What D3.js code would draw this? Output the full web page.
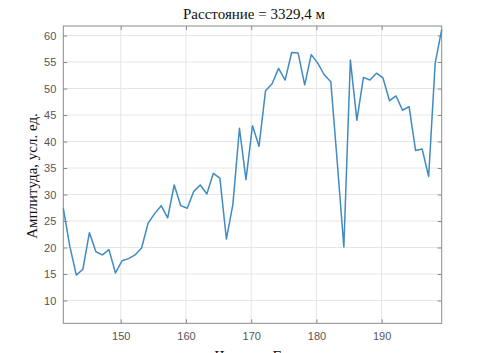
<!DOCTYPE html>
<html><head><meta charset="utf-8">
<script src="https://cdn.jsdelivr.net/npm/d3@7"></script>
<style>body{margin:0;background:#fff}svg{display:block}</style>
</head><body>
<script>
const titleText = "Расстояние = 3329,4 м";
const yLabel = "Амплитуда, усл. ед.";
const xLabel = "Частота, Гц";
const distance = [141.2,142.2,143.2,144.2,145.2,146.2,147.2,148.2,149.2,150.2,
  151.2,152.2,153.2,154.2,155.2,156.2,157.2,158.2,159.2,160.2,
  161.2,162.2,163.2,164.2,165.2,166.2,167.2,168.2,169.2,170.2,
  171.2,172.2,173.2,174.2,175.2,176.2,177.2,178.2,179.2,180.2,
  181.2,182.2,183.2,184.2,185.2,186.2,187.2,188.2,189.2,190.2,
  191.2,192.2,193.2,194.2,195.2,196.2,197.2,198.2,199.2];
const amplitude = [27.4,20.2,14.8,15.9,22.8,19.2,18.6,19.6,15.2,17.5,
  17.9,18.6,19.9,24.6,26.4,27.9,25.6,31.8,27.9,27.4,
  30.6,31.8,30.1,34.0,33.1,21.6,28.2,42.5,32.8,43.0,
  39.1,49.6,50.9,53.8,51.6,56.8,56.7,50.7,56.4,54.8,
  52.6,51.3,36.0,20.1,55.4,44.0,52.1,51.6,52.9,52.0,
  47.7,48.6,45.9,46.6,38.3,38.6,33.4,54.8,61.1];
const xTicks = [150,160,170,180,190];
const yTicks = [10,15,20,25,30,35,40,45,50,55,60];
const yDomain = [5.7,61.8];

const W=488,H=353;
const m={left:63.3,top:26,right:488-441.7,bottom:353-323.3};
const svg=d3.select("body").append("svg").attr("width",W).attr("height",H);
const x=d3.scaleLinear().domain(d3.extent(distance)).range([m.left,W-m.right]);
const y=d3.scaleLinear().domain(yDomain).range([H-m.bottom,m.top]);
const pw=W-m.left-m.right, ph=H-m.top-m.bottom;

// grid
const g=svg.append("g");
g.selectAll("line.gx").data(xTicks).join("line")
 .attr("x1",d=>x(d)).attr("x2",d=>x(d)).attr("y1",m.top).attr("y2",H-m.bottom)
 .attr("stroke","#e6e6e6").attr("stroke-width",1);
g.selectAll("line.gy").data(yTicks).join("line")
 .attr("y1",d=>y(d)).attr("y2",d=>y(d)).attr("x1",m.left).attr("x2",W-m.right)
 .attr("stroke","#e6e6e6").attr("stroke-width",1);

// axes
const tickStyle = sel=>{sel.select(".domain").remove();sel.selectAll("line").attr("stroke","#8a8a8a");
  sel.selectAll("text").attr("fill","#555").style("font-family","'Liberation Sans',Arial,sans-serif").style("font-size","11px");};
svg.append("g").attr("transform",`translate(0,${H-m.bottom})`)
 .call(d3.axisBottom(x).tickValues(xTicks).tickSize(-4).tickPadding(9).tickFormat(d3.format("d"))).call(tickStyle);
svg.append("g").attr("transform",`translate(0,${m.top})`)
 .call(d3.axisTop(x).tickValues(xTicks).tickSize(-4).tickFormat("")).call(tickStyle);
svg.append("g").attr("transform",`translate(${m.left},0)`)
 .call(d3.axisLeft(y).tickValues(yTicks).tickSize(-4).tickPadding(7).tickFormat(d3.format("d"))).call(tickStyle);
svg.append("g").attr("transform",`translate(${W-m.right},0)`)
 .call(d3.axisRight(y).tickValues(yTicks).tickSize(-4).tickFormat("")).call(tickStyle);

// box
svg.append("rect").attr("x",m.left).attr("y",m.top).attr("width",pw).attr("height",ph)
 .attr("fill","none").attr("stroke","#8a8a8a").attr("stroke-width",1);

// line
svg.append("path").datum(distance.map((d,i)=>[d,amplitude[i]]))
 .attr("d",d3.line().x(d=>x(d[0])).y(d=>y(d[1])))
 .attr("fill","none").attr("stroke","#3f8bc2").attr("stroke-width",1.5).attr("stroke-linejoin","round");

// texts
svg.append("text").attr("x",254).attr("y",19).attr("text-anchor","middle")
 .style("font-family","'Liberation Serif','Times New Roman',serif").style("font-size","15px").attr("fill","#111").text(titleText);
svg.append("text").attr("transform",`translate(37,176) rotate(-90)`).attr("text-anchor","middle")
 .style("font-family","'Liberation Serif','Times New Roman',serif").style("font-size","15px").attr("fill","#111").text(yLabel);
svg.append("text").attr("x",252).attr("y",361).attr("text-anchor","middle")
 .style("font-family","'Liberation Serif','Times New Roman',serif").style("font-size","15px").attr("fill","#111").text(xLabel);
</script>
</body></html>
